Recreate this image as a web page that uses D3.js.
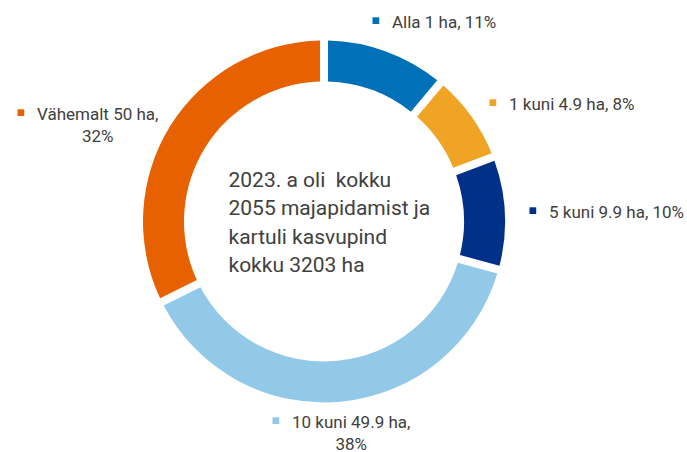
<!DOCTYPE html>
<meta charset="utf-8">
<style>
    body { margin: 0; background: #fff; }
    svg { display: block; }
    text {
        font-family: Roboto, "Noto Sans", sans-serif;
        font-weight: 400;
        fill: #404040;
        white-space: pre;
    }
    .lbl { font-size: 17px; }
    .center { font-size: 21px; }
</style>
<svg width="687" height="452"></svg>
<script src="https://d3js.org/d3.v7.min.js"></script>
<script>

    // data
    var categories = ["Alla 1 ha", "1 kuni 4.9 ha", "5 kuni 9.9 ha", "10 kuni 49.9 ha", "Vähemalt 50 ha"];
    var shares = [11, 8, 10, 38, 32]; // percent
    var colors = ["#0070b8", "#f0a425", "#003087", "#93c9e8", "#e86100"];
    var centerLines = ["2023. a oli  kokku", "2055 majapidamist ja", "kartuli kasvupind", "kokku 3203 ha"];

    // label layout: text x, baseline y, and whether the percent wraps to a 2nd line
    var labelPos = [
        {x: 392, y: 28, wrap: false},
        {x: 509, y: 110, wrap: false},
        {x: 549, y: 218, wrap: false},
        {x: 292, y: 428, wrap: true},
        {x: 37, y: 120, wrap: true}
    ];

    var svg = d3.select("svg"),
        cx = 324, cy = 221.5,
        outerR = 181, innerR = 140,
        gap = 8;

    var pie = d3.pie().sort(null).value(function(d) { return d; });
    var arc = d3.arc()
        .innerRadius(innerR)
        .outerRadius(outerR)
        .padRadius(outerR)
        .padAngle(gap / outerR);

    var g = svg.append("g").attr("transform", "translate(" + [cx, cy] + ")");

    g.selectAll("path")
        .data(pie(shares))
        .enter().append("path")
        .attr("fill", function(d, i) { return colors[i]; })
        .attr("d", arc);

    // center text
    svg.append("g").selectAll("text")
        .data(centerLines)
        .enter().append("text")
        .attr("class", "center")
        .attr("x", 228.5)
        .attr("y", function(d, i) { return 186.7 + i * 28.4; })
        .text(function(d) { return d; });

    // data labels
    var labels = svg.append("g").selectAll("g")
        .data(categories)
        .enter().append("g");

    labels.each(function(name, i) {
        var sel = d3.select(this),
            p = labelPos[i],
            pct = shares[i] + "%";

        sel.append("rect")
            .attr("x", p.x - 19.5)
            .attr("y", p.y - 10.7)
            .attr("width", 6.7)
            .attr("height", 6.7)
            .attr("fill", colors[i]);

        var t1 = sel.append("text")
            .attr("class", "lbl")
            .attr("x", p.x)
            .attr("y", p.y)
            .text(p.wrap ? name + "," : name + ", " + pct);

        if (p.wrap) {
            var w = t1.node().getComputedTextLength();
            sel.append("text")
                .attr("class", "lbl")
                .attr("x", p.x + w / 2)
                .attr("y", p.y + 22)
                .attr("text-anchor", "middle")
                .text(pct);
        }
    });

</script>
